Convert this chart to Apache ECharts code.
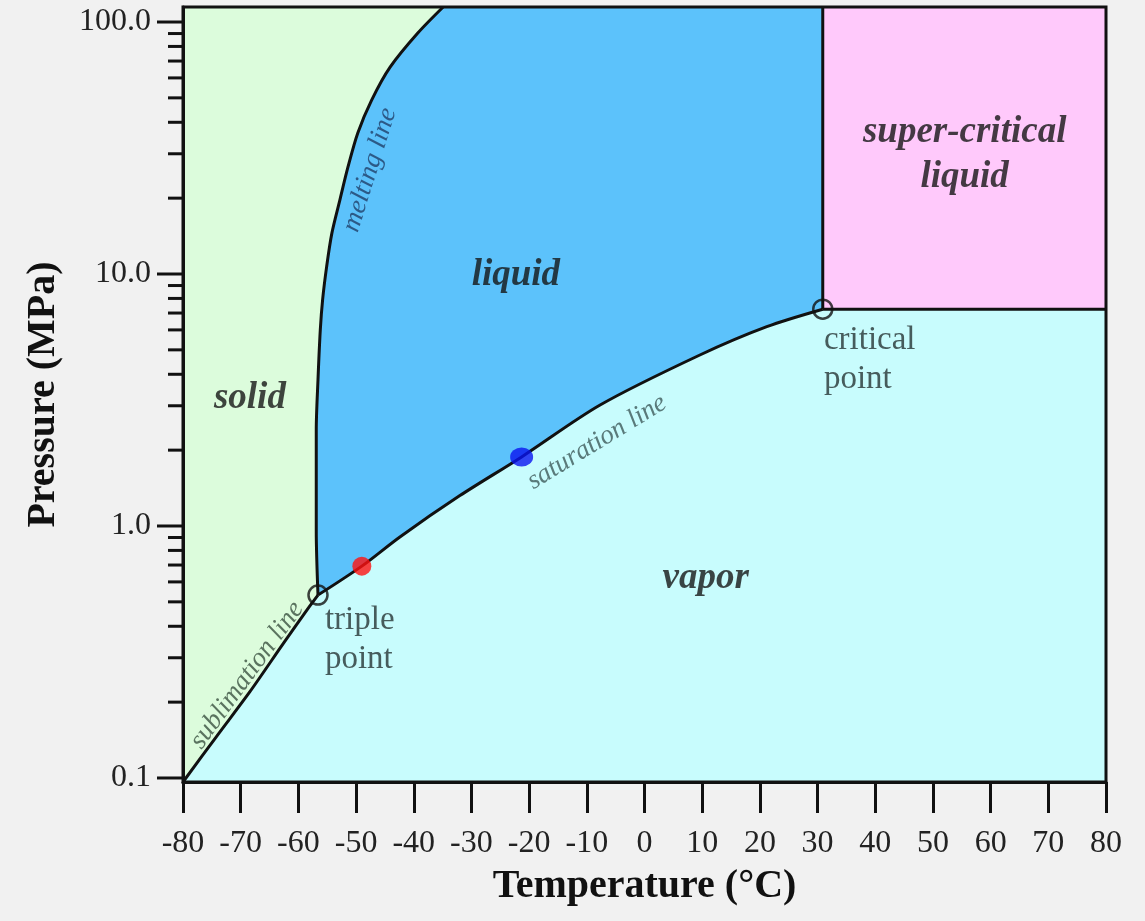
<!DOCTYPE html>
<html>
<head>
<meta charset="utf-8">
<title>CO2 phase diagram</title>
<script src="https://cdn.jsdelivr.net/npm/echarts@6/dist/echarts.min.js"></script>
<style>
  html, body { margin: 0; padding: 0; background: #f1f1f1; }
  #chart { width: 1145px; height: 921px; }
</style>
</head>
<body>
<div id="chart"></div>
<script>
// axis ranges (temperature in degC, pressure in MPa, log scale)
const tMin = -80, tMax = 80
const pMin = 0.0964, pMax = 114.7

const pMajorTicks = [0.1, 1, 10, 100]
const pMinorTicks = [0.2, 0.3, 0.4, 0.5, 0.6, 0.7, 0.8, 0.9,
                     2, 3, 4, 5, 6, 7, 8, 9,
                     20, 30, 40, 50, 60, 70, 80, 90]

// triple point and critical point
const tripleT = -56.6, tripleP = 0.532
const critT = 30.9, critP = 7.25

// phase boundaries
const sublimationT = [-80, -74.2, -68.4, -62.6, -58.5, -56.6]
const sublimationP = [0.0964, 0.146, 0.22, 0.342, 0.465, 0.532]

const saturationT = [-56.6, -49.0, -42.4, -32.0, -21.3, -7.7, 9.6, 21.2, 30.9]
const saturationP = [0.532, 0.693, 0.905, 1.32, 1.88, 3.02, 4.77, 6.18, 7.25]

const meltingT = [-56.6, -56.9, -56.9, -56.9, -56.6, -56.2, -55.8, -55.1, -54.2, -52.8, -51.4, -49.7, -47.3, -44.1, -39.3, -34.9]
const meltingP = [0.532, 0.96, 1.52, 2.40, 3.80, 6.0, 7.9, 10.7, 14.5, 19.7, 26.6, 36.3, 49.0, 66.2, 90.4, 114.7]

// the two marked states
const redT = -49.0, redP = 0.693
const blueT = -21.3, blueP = 1.88

// labels
const regionNames = ['solid', 'liquid', 'vapor', 'super-critical\nliquid']
const regionT = [-68.4, -22.3, 10.6, 55.5]
const regionP = [3.22, 9.9, 0.62, 29.7]

const curveNames = ['melting line', 'saturation line', 'sublimation line']
const curveT = [-47.6, -8.25, -68.9]
const curveP = [25.9, 2.15, 0.256]

const pointNames = ['triple\npoint', 'critical\npoint']
const pointT = [-55.4, 31.1]
const pointP = [0.353, 4.56]


const zip = (a, b) => a.map((v, i) => [v, b[i]])
const sub = zip(sublimationT, sublimationP)
const sat = zip(saturationT, saturationP)
const melt = zip(meltingT, meltingP)

const regionPolys = [
  [[tMin, pMax], [tMin, pMin], ...sub, ...melt],                           // solid
  [...melt, [critT, pMax], ...sat.slice().reverse()],                       // liquid
  [[critT, critP], [critT, pMax], [tMax, pMax], [tMax, critP]],             // super-critical
  [[tMin, pMin], ...sub, ...sat, [tMax, critP], [tMax, pMin]]               // vapor
]
const regionColors = ['#dcfcdc', '#5cc2fb', '#ffc9fb', '#c8fcfd']

const serif = 'Liberation Serif'
const ink = '#111'

const yTicks = pMajorTicks.map(p => [tMin, p, 1]).concat(pMinorTicks.map(p => [tMin, p, 0]))

const isDecade = v => Math.abs(Math.log10(v) - Math.round(Math.log10(v))) < 1e-6

const chart = echarts.init(document.getElementById('chart'))

const option = {
  backgroundColor: '#f1f1f1',
  animation: false,
  grid: {
    left: 183, right: 39, top: 7, bottom: 139,
    show: true, z: 10,
    backgroundColor: 'transparent',
    borderColor: ink, borderWidth: 3
  },
  xAxis: {
    type: 'value',
    min: tMin, max: tMax, interval: 10,
    z: 10,
    name: 'Temperature (°C)',
    nameLocation: 'middle',
    nameGap: 85,
    nameTextStyle: { fontFamily: serif, fontWeight: 'bold', fontSize: 40, color: ink },
    axisLine: { onZero: false, lineStyle: { color: ink, width: 3 } },
    axisTick: { length: 31, lineStyle: { color: ink, width: 3 } },
    splitLine: { show: false },
    axisLabel: { fontFamily: serif, fontSize: 32, color: '#222', margin: 46 }
  },
  yAxis: {
    type: 'log',
    logBase: 10,
    min: pMin, max: pMax,
    z: 10,
    name: 'Pressure (MPa)',
    nameLocation: 'middle',
    nameGap: 119,
    nameTextStyle: { fontFamily: serif, fontWeight: 'bold', fontSize: 40, color: ink },
    axisLine: { show: true, onZero: false, lineStyle: { color: ink, width: 3 } },
    axisTick: { show: false },
    minorTick: { show: false },
    splitLine: { show: false },
    axisLabel: {
      fontFamily: serif, fontSize: 32, color: '#222', margin: 32,
      formatter: v => isDecade(v) ? v.toFixed(1) : ''
    }
  },
  series: [
    {
      // phase regions
      type: 'custom',
      silent: true,
      z: 1,
      data: regionPolys.map((_, i) => [tMin, pMin, i]),
      encode: { x: 0, y: 1 },
      renderItem: (params, api) => {
        const i = params.dataIndex
        return {
          type: 'polygon',
          shape: { points: regionPolys[i].map(p => api.coord(p)) },
          style: { fill: regionColors[i], stroke: regionColors[i], lineWidth: 1 }
        }
      }
    },
    {
      // log ticks on the pressure axis
      type: 'custom',
      silent: true,
      clip: false,
      z: 5,
      data: yTicks,
      encode: { x: 0, y: 1 },
      renderItem: (params, api) => {
        const pt = api.coord([tMin, api.value(1)])
        const len = api.value(2) ? 26 : 15
        return {
          type: 'line',
          shape: { x1: pt[0] - len, y1: pt[1], x2: pt[0], y2: pt[1] },
          style: { stroke: ink, lineWidth: 3 }
        }
      }
    },
    { type: 'line', data: sub, showSymbol: false, smooth: 0.3, z: 3, silent: true, lineStyle: { color: ink, width: 3 } },
    { type: 'line', data: sat, showSymbol: false, smooth: 0.3, z: 3, silent: true, lineStyle: { color: ink, width: 3 } },
    { type: 'line', data: melt, showSymbol: false, smooth: 0.3, z: 3, silent: true, lineStyle: { color: ink, width: 3 } },
    { type: 'line', data: [[critT, critP], [critT, pMax]], showSymbol: false, z: 3, silent: true, lineStyle: { color: ink, width: 3 } },
    { type: 'line', data: [[critT, critP], [tMax, critP]], showSymbol: false, z: 3, silent: true, lineStyle: { color: ink, width: 3 } },
    {
      type: 'scatter', z: 6, silent: true,
      data: [[tripleT, tripleP], [critT, critP]],
      symbolSize: 19,
      itemStyle: { color: 'rgba(0,0,0,0)', borderColor: ink, borderWidth: 2.5 }
    },
    { type: 'scatter', z: 6, silent: true, data: [[redT, redP]], symbolSize: 19, itemStyle: { color: '#ff1212' } },
    { type: 'scatter', z: 6, silent: true, data: [[blueT, blueP]], symbolSize: [23, 19], itemStyle: { color: '#0a14f0' } },
    {
      // region names
      type: 'scatter', z: 7, silent: true, symbolSize: 0,
      data: regionNames.map((n, i) => ({ name: n, value: [regionT[i], regionP[i]] })),
      label: {
        show: true, position: [0, 0], align: 'center', verticalAlign: 'middle',
        formatter: p => p.name,
        fontFamily: serif, fontWeight: 'bold', fontStyle: 'italic', fontSize: 37, lineHeight: 45, color: '#151515'
      }
    },
    {
      // curve names
      type: 'scatter', z: 7, silent: true, symbolSize: 0,
      data: curveNames.map((n, i) => ({
        name: n, value: [curveT[i], curveP[i]],
        label: { rotate: [72.5, 31.5, 54][i], color: ['#21406a', '#3d5959', '#3a5040'][i] }
      })),
      label: {
        show: true, position: [0, 0], align: 'center', verticalAlign: 'middle',
        formatter: p => p.name,
        fontFamily: serif, fontStyle: 'italic', fontSize: 27
      }
    },
    {
      // special point names
      type: 'scatter', z: 7, silent: true, symbolSize: 0,
      data: pointNames.map((n, i) => ({ name: n, value: [pointT[i], pointP[i]] })),
      label: {
        show: true, position: [0, 0], align: 'left', verticalAlign: 'middle',
        formatter: p => p.name,
        fontFamily: serif, fontSize: 33, lineHeight: 39, color: '#253333'
      }
    }
  ]
}

chart.setOption(option)
</script>
</body>
</html>
